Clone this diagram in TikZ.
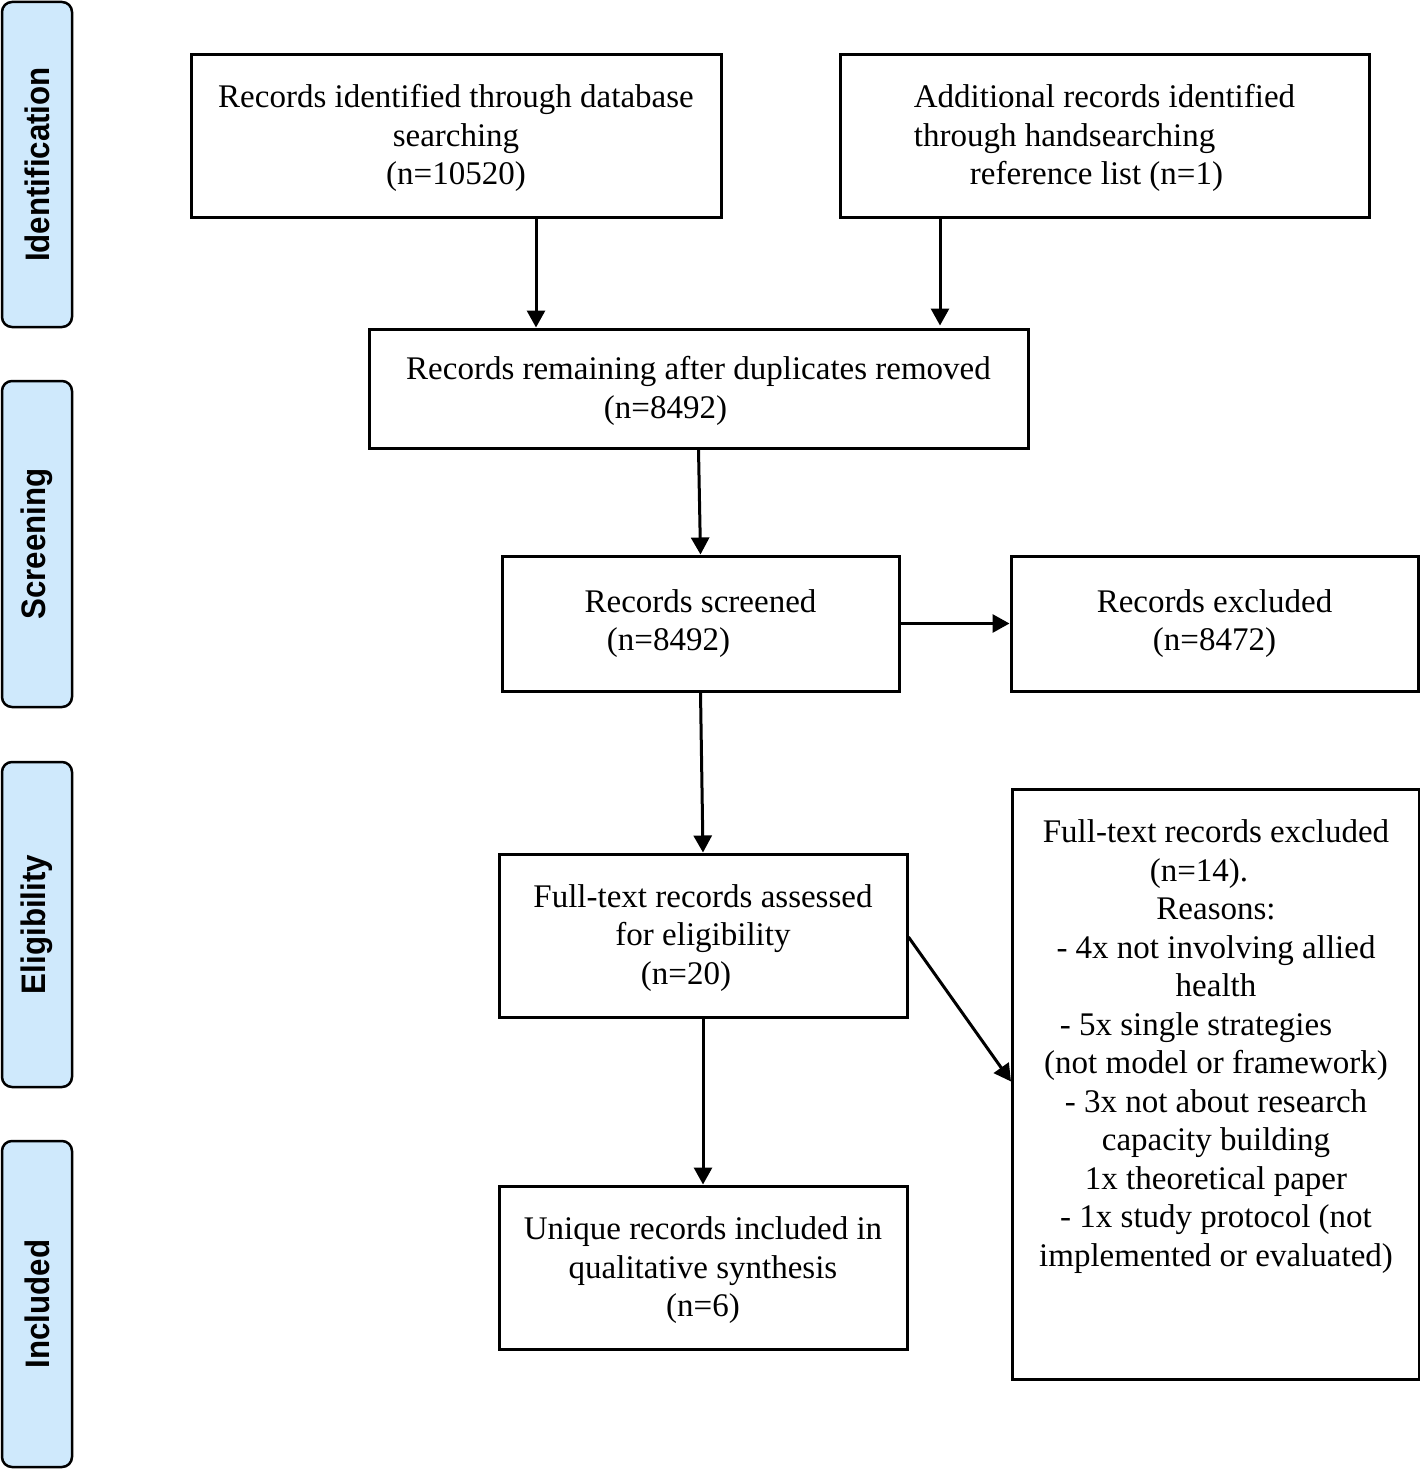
\documentclass[tikz,border=0pt]{standalone}
\usepackage{fontspec}
\setmainfont{Liberation Serif}
\newfontfamily\barfont{Liberation Sans}
\usetikzlibrary{arrows.meta}
\definecolor{barblue}{RGB}{207,233,252}
\begin{document}
\begin{tikzpicture}[x=1pt,y=-1pt,
  box/.style={draw, line width=3pt, inner sep=0pt, align=center, font=\fontsize{33}{38.5}\selectfont},
  bar/.style={draw, line width=2.5pt, rounded corners=10pt, fill=barblue, rotate=90, minimum height=70pt, inner sep=0pt,
    font=\barfont\bfseries\fontsize{34}{40}\selectfont},
  arr/.style={line width=3pt, -{Triangle[length=17pt,width=18pt]}}]
\useasboundingbox (0,0) rectangle (1420,1469);

% phase bars
\node[bar, minimum width=325pt] (bid) at (37,164.5) {\scalebox{0.92}[1]{Identification}};
\node[bar, minimum width=326pt] (bsc) at (37,544) {\scalebox{0.92}[1]{Screening}};
\node[bar, minimum width=325pt] (bel) at (37,924.5) {\scalebox{0.92}[1]{Eligibility}};
\node[bar, minimum width=326pt] (bin) at (37,1304) {\scalebox{0.92}[1]{Included}};

% boxes
\node[box, minimum width=530pt, minimum height=162pt] (A) at (456,136)
  {\rule{0pt}{28pt}Records identified through database\\searching\\(n=10520)};
\node[box, minimum width=529pt, minimum height=162pt, align=left] (B) at (1104.5,136)
  {\rule{0pt}{28pt}Additional records identified\\through handsearching\\\hspace*{56pt}reference list (n=1)};
\node[box, minimum width=659pt, minimum height=119pt] (C) at (698.5,388.5)
  {\rule{0pt}{28pt}Records remaining after duplicates removed\\(n=8492)\hspace*{66pt}\mbox{}};
\node[box, minimum width=397pt, minimum height=135pt] (D) at (700.5,623.5)
  {Records screened\\(n=8492)\hspace*{64pt}\mbox{}};
\node[box, minimum width=407pt, minimum height=135pt] (E) at (1214.5,623.5)
  {Records excluded\\(n=8472)};
\node[box, minimum width=408pt, minimum height=163pt] (F) at (703,935.5)
  {\rule{0pt}{28pt}Full-text records assessed\\for eligibility\\(n=20)\hspace*{34pt}\mbox{}};
\node[box, minimum width=408pt, minimum height=163pt] (G) at (703,1267.5)
  {\rule{0pt}{28pt}Unique records included in\\qualitative synthesis\\(n=6)};
\node[box, minimum width=407pt, anchor=north west] (H) at (1011,788)
  {\parbox[t][590pt][t]{404pt}{\centering\rule{0pt}{53pt}Full-text records excluded\\
   (n=14).\hspace*{34pt}\mbox{}\\
   Reasons:\\
   - 4x not involving allied\\
   health\\
   - 5x single strategies\hspace*{40pt}\mbox{}\\
   (not model or framework)\\
   - 3x not about research\\
   capacity building\\
   1x theoretical paper\\
   - 1x study protocol (not\\
   implemented or evaluated)}};

% connectors
\draw[arr] ([xshift=80pt]A.south) -- ([xshift=80pt]A.south |- C.north);
\draw[arr] ([xshift=-164.5pt]B.south) -- ([xshift=-164.5pt,yshift=2pt]B.south |- C.north);
\draw[arr] (C.south) -- (D.north);
\draw[arr] (D.east) -- (E.west);
\draw[arr] (D.south) -- (F.north);
\draw[arr] (F.south) -- (G.north);
\draw[arr] ([yshift=-1.5pt]F.east) -- ([yshift=3pt]H.west);
\end{tikzpicture}
\end{document}
